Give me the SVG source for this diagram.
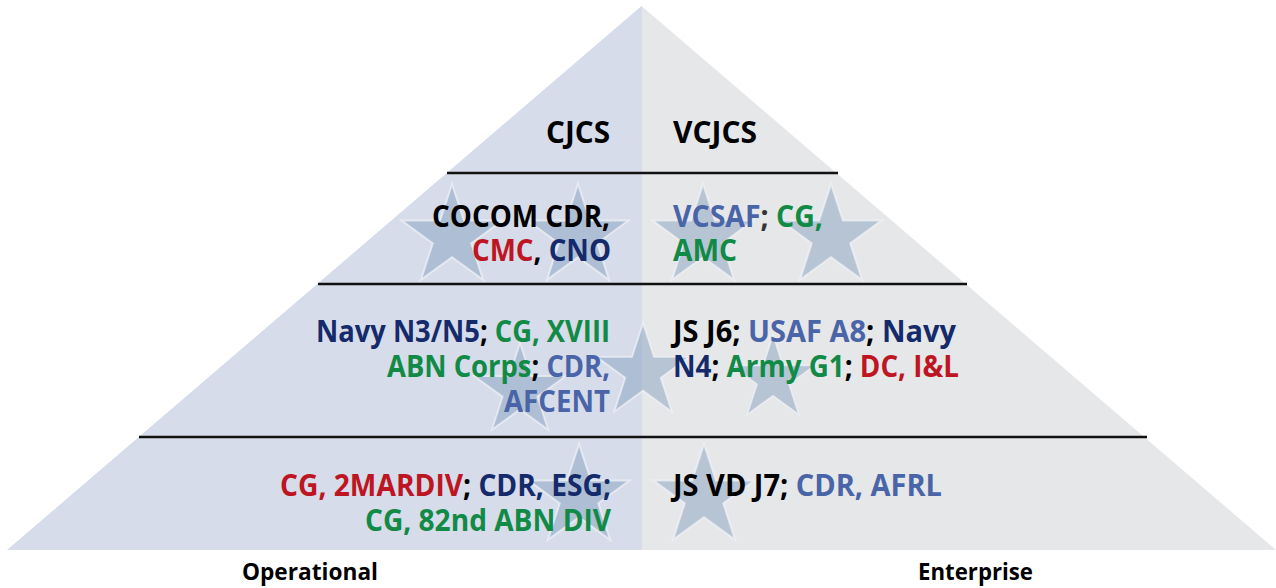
<svg xmlns="http://www.w3.org/2000/svg" width="1276" height="588" viewBox="0 0 1276 588">
<style>
text{font-family:"Open Sans","Noto Sans","Liberation Sans",sans-serif;font-weight:700;font-size:30px;fill:#000}
.lbl{font-family:"Open Sans","Noto Sans","Liberation Sans",sans-serif;font-weight:700;font-size:24px}
.r{fill:#bd1622}.n{fill:#142a6a}.g{fill:#118a46}.s{fill:#4a64a8}.k{fill:#000}
.tier{stroke:#111;stroke-width:2.6;fill:none}
.star{fill:#7f98ba;fill-opacity:0.45;stroke:#f2f4f8;stroke-opacity:0.7;stroke-width:2}
</style>
<defs>
<clipPath id="pyr"><polygon points="641.5,6 1276,550 7,550"/></clipPath>
<path id="st" d="M0,-53 L11.9,-16.38 L50.41,-16.38 L19.26,6.26 L31.15,42.88 L0,20.25 L-31.15,42.88 L-19.26,6.26 L-50.41,-16.38 L-11.9,-16.38 Z"/>
</defs>
<rect width="1276" height="588" fill="#fff"/>
<g id="pyramid" clip-path="url(#pyr)">
<rect x="0" y="0" width="642" height="560" fill="#d6dce9"/>
<rect x="642" y="0" width="640" height="560" fill="#e6e7e9"/>
<g id="stars">
<use href="#st" class="star" x="452" y="237"/>
<use href="#st" class="star" x="578" y="237"/>
<use href="#st" class="star" x="703" y="237"/>
<use href="#st" class="star" x="831" y="237"/>
<use href="#st" class="star" transform="translate(520,391) scale(0.906)"/>
<use href="#st" class="star" transform="translate(643,372) scale(0.925)"/>
<use href="#st" class="star" transform="translate(773,379) scale(0.83)"/>
<use href="#st" class="star" x="579" y="497"/>
<use href="#st" class="star" x="704" y="497"/>
</g>
</g>
<g id="connectors">
<line class="tier" x1="447" y1="173" x2="838" y2="173"/>
<line class="tier" x1="318" y1="284" x2="967" y2="284"/>
<line class="tier" x1="139" y1="437" x2="1147" y2="437"/>
</g>
<g id="tier1">
<text x="546" y="143" textLength="64" lengthAdjust="spacingAndGlyphs">CJCS</text>
<text x="673" y="143" textLength="84" lengthAdjust="spacingAndGlyphs">VCJCS</text>
</g>
<g id="tier2">
<text x="432" y="227" textLength="178" lengthAdjust="spacingAndGlyphs">COCOM CDR,</text>
<text x="472" y="261" textLength="139" lengthAdjust="spacingAndGlyphs"><tspan class="r">CMC</tspan><tspan class="k">, </tspan><tspan class="n">CNO</tspan></text>
<text x="673" y="227" textLength="150" lengthAdjust="spacingAndGlyphs"><tspan class="s">VCSAF</tspan><tspan fill="#333">; </tspan><tspan class="g">CG,</tspan></text>
<text x="673" y="261" textLength="64" lengthAdjust="spacingAndGlyphs" class="g">AMC</text>
</g>
<g id="tier3">
<text x="316" y="342" textLength="294" lengthAdjust="spacingAndGlyphs"><tspan class="n">Navy N3/N5</tspan><tspan class="k">; </tspan><tspan class="g">CG, XVIII</tspan></text>
<text x="387" y="377" textLength="223" lengthAdjust="spacingAndGlyphs"><tspan class="g">ABN Corps</tspan><tspan class="k">; </tspan><tspan class="s">CDR,</tspan></text>
<text x="504" y="412" textLength="106" lengthAdjust="spacingAndGlyphs" class="s">AFCENT</text>
<text x="673" y="342" textLength="283" lengthAdjust="spacingAndGlyphs"><tspan class="k">JS J6; </tspan><tspan class="s">USAF A8</tspan><tspan class="k">; </tspan><tspan class="n">Navy</tspan></text>
<text x="673" y="377" textLength="286" lengthAdjust="spacingAndGlyphs"><tspan class="n">N4</tspan><tspan class="k">; </tspan><tspan class="g">Army G1</tspan><tspan class="k">; </tspan><tspan class="r">DC, I&amp;L</tspan></text>
</g>
<g id="tier4">
<text x="280" y="496" textLength="331" lengthAdjust="spacingAndGlyphs"><tspan class="r">CG, 2MARDIV</tspan><tspan class="k">; </tspan><tspan class="n">CDR, ESG;</tspan></text>
<text x="365" y="531" textLength="246" lengthAdjust="spacingAndGlyphs" class="g">CG, 82nd ABN DIV</text>
<text x="673" y="496" textLength="269" lengthAdjust="spacingAndGlyphs"><tspan class="k">JS VD J7; </tspan><tspan class="s">CDR, AFRL</tspan></text>
</g>
<g id="axis-labels">
<text class="lbl" x="242" y="580" textLength="136" lengthAdjust="spacingAndGlyphs">Operational</text>
<text class="lbl" x="918" y="580" textLength="115" lengthAdjust="spacingAndGlyphs">Enterprise</text>
</g>
</svg>
